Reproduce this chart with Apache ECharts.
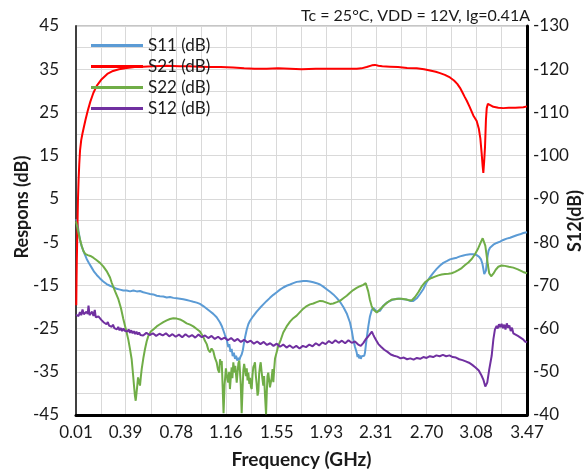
<!DOCTYPE html>
<html>
<head>
<meta charset="utf-8">
<script src="https://cdn.jsdelivr.net/npm/echarts@6/dist/echarts.min.js"></script>
<style>
  html, body { margin: 0; padding: 0; background: #fff; }
  #chart { width: 587px; height: 474px; }
</style>
</head>
<body>
<div id="chart"></div>
<script>
// Axis tick labels
const freqTicks = [0.01, 0.39, 0.78, 1.16, 1.55, 1.93, 2.31, 2.70, 3.08, 3.47];
const responseTicks = [-45, -35, -25, -15, -5, 5, 15, 25, 35, 45];

// Series: [frequency GHz, dB]
const s11 = [[0.010, 0.3], [0.020, -0.4], [0.028, -2.1], [0.041, -4.6], [0.054, -6.0], [0.066, -7.0], [0.080, -8.0], [0.092, -8.9], [0.110, -9.9], [0.130, -10.9], [0.150, -11.9], [0.169, -12.6], [0.194, -13.4], [0.219, -14.1], [0.245, -14.7], [0.271, -15.1], [0.296, -15.4], [0.322, -15.8], [0.348, -16.0], [0.373, -16.2], [0.399, -16.2], [0.425, -16.4], [0.450, -16.2], [0.476, -16.4], [0.501, -16.3], [0.526, -16.6], [0.552, -16.8], [0.578, -17.0], [0.603, -17.1], [0.629, -17.4], [0.654, -17.5], [0.680, -17.6], [0.706, -17.8], [0.731, -17.7], [0.757, -17.9], [0.783, -18.0], [0.808, -18.1], [0.833, -18.2], [0.859, -18.4], [0.885, -18.6], [0.910, -18.8], [0.936, -19.0], [0.961, -19.3], [0.987, -19.8], [1.013, -20.4], [1.038, -21.0], [1.063, -21.6], [1.089, -22.4], [1.115, -23.6], [1.128, -24.4], [1.140, -25.4], [1.153, -26.5], [1.166, -27.5], [1.178, -29.3], [1.186, -28.6], [1.195, -30.4], [1.204, -29.7], [1.212, -31.4], [1.221, -30.6], [1.230, -32.0], [1.238, -31.3], [1.247, -32.4], [1.255, -31.8], [1.263, -32.3], [1.272, -31.5], [1.281, -31.0], [1.290, -30.0], [1.298, -28.5], [1.307, -27.0], [1.320, -25.2], [1.332, -24.0], [1.345, -23.2], [1.370, -22.1], [1.396, -21.1], [1.422, -20.2], [1.447, -19.4], [1.473, -18.6], [1.498, -17.9], [1.524, -17.2], [1.550, -16.6], [1.575, -16.0], [1.600, -15.5], [1.626, -15.1], [1.652, -14.8], [1.677, -14.5], [1.703, -14.2], [1.728, -14.1], [1.754, -14.0], [1.780, -14.0], [1.805, -14.1], [1.831, -14.3], [1.856, -14.5], [1.882, -14.8], [1.907, -15.3], [1.933, -15.9], [1.959, -16.5], [1.984, -17.1], [2.010, -17.9], [2.035, -18.8], [2.061, -20.0], [2.087, -21.5], [2.112, -23.6], [2.125, -25.4], [2.137, -27.5], [2.150, -29.2], [2.163, -30.5], [2.170, -31.6], [2.176, -30.9], [2.182, -31.9], [2.189, -31.2], [2.195, -32.0], [2.202, -31.4], [2.208, -31.8], [2.214, -31.0], [2.221, -31.3], [2.227, -30.6], [2.234, -28.8], [2.240, -27.3], [2.252, -24.6], [2.265, -22.2], [2.278, -20.8], [2.291, -20.2], [2.304, -20.6], [2.317, -21.1], [2.329, -21.3], [2.342, -20.9], [2.355, -20.3], [2.368, -19.7], [2.394, -19.0], [2.419, -18.6], [2.444, -18.3], [2.470, -18.1], [2.496, -18.1], [2.521, -18.2], [2.547, -18.3], [2.572, -18.6], [2.598, -18.6], [2.624, -18.0], [2.649, -17.0], [2.674, -15.9], [2.700, -14.3], [2.726, -13.1], [2.751, -12.1], [2.777, -11.2], [2.803, -10.4], [2.828, -9.8], [2.854, -9.4], [2.879, -9.0], [2.905, -8.8], [2.931, -8.6], [2.956, -8.3], [2.982, -8.1], [3.008, -7.9], [3.033, -7.8], [3.058, -7.8], [3.084, -8.0], [3.103, -8.4], [3.117, -9.0], [3.128, -10.0], [3.135, -11.2], [3.142, -12.4], [3.148, -12.5], [3.155, -11.6], [3.161, -10.0], [3.168, -8.2], [3.175, -7.0], [3.186, -6.3], [3.199, -5.9], [3.212, -5.6], [3.237, -5.2], [3.263, -4.9], [3.288, -4.5], [3.314, -4.2], [3.340, -4.0], [3.365, -3.7], [3.391, -3.4], [3.416, -3.2], [3.442, -2.9], [3.470, -2.7]];

const s21 = [[0.012, -19.6], [0.014, -14.0], [0.016, -9.5], [0.018, -6.5], [0.021, -1.5], [0.025, 4.8], [0.030, 9.5], [0.035, 13.0], [0.041, 16.2], [0.050, 18.6], [0.060, 20.2], [0.068, 21.3], [0.083, 23.3], [0.102, 25.6], [0.120, 27.5], [0.143, 29.5], [0.170, 31.2], [0.207, 32.7], [0.250, 33.9], [0.294, 34.6], [0.340, 35.0], [0.399, 35.3], [0.460, 35.5], [0.524, 35.6], [0.600, 35.7], [0.706, 35.8], [0.800, 35.7], [0.880, 35.7], [0.961, 35.6], [1.040, 35.5], [1.120, 35.5], [1.215, 35.4], [1.300, 35.2], [1.380, 35.1], [1.473, 35.1], [1.560, 35.2], [1.652, 35.1], [1.740, 35.0], [1.850, 35.1], [1.950, 35.1], [2.050, 35.1], [2.164, 35.1], [2.200, 35.2], [2.240, 35.5], [2.280, 35.9], [2.304, 36.0], [2.330, 35.8], [2.360, 35.7], [2.419, 35.6], [2.480, 35.5], [2.550, 35.3], [2.624, 35.2], [2.680, 35.0], [2.726, 34.7], [2.770, 34.4], [2.803, 34.1], [2.840, 33.7], [2.879, 33.1], [2.910, 32.4], [2.935, 31.6], [2.956, 30.7], [2.975, 29.6], [2.992, 28.6], [3.008, 27.7], [3.030, 26.3], [3.058, 24.3], [3.084, 23.0], [3.100, 21.3], [3.112, 19.0], [3.122, 15.6], [3.130, 12.5], [3.135, 11.0], [3.141, 13.5], [3.148, 17.1], [3.155, 23.3], [3.161, 26.0], [3.170, 27.0], [3.181, 27.2], [3.195, 26.6], [3.212, 26.3], [3.250, 26.1], [3.288, 26.0], [3.330, 26.1], [3.380, 26.1], [3.442, 26.2], [3.470, 26.4]];

const s22 = [[0.010, -0.2], [0.015, -0.6], [0.022, -1.8], [0.028, -2.8], [0.041, -4.4], [0.054, -5.9], [0.066, -7.0], [0.080, -7.7], [0.100, -8.0], [0.120, -8.2], [0.143, -8.6], [0.169, -9.2], [0.194, -9.8], [0.219, -10.6], [0.245, -11.7], [0.271, -13.2], [0.284, -14.4], [0.310, -16.4], [0.335, -18.2], [0.355, -20.3], [0.373, -22.8], [0.392, -25.1], [0.411, -27.5], [0.424, -29.7], [0.437, -32.1], [0.447, -35.4], [0.455, -38.2], [0.462, -40.5], [0.468, -41.7], [0.474, -40.0], [0.480, -38.2], [0.486, -36.3], [0.491, -35.9], [0.496, -37.6], [0.501, -38.2], [0.508, -36.0], [0.514, -34.4], [0.527, -31.8], [0.539, -29.8], [0.552, -28.0], [0.565, -26.7], [0.584, -25.7], [0.603, -25.2], [0.629, -24.5], [0.654, -24.0], [0.680, -23.5], [0.706, -23.1], [0.731, -22.8], [0.757, -22.6], [0.783, -22.7], [0.808, -22.9], [0.833, -23.3], [0.859, -23.8], [0.885, -24.1], [0.910, -24.5], [0.936, -25.1], [0.961, -25.7], [0.974, -26.3], [0.987, -27.0], [1.000, -27.9], [1.013, -28.6], [1.025, -29.9], [1.038, -30.5], [1.050, -29.6], [1.063, -30.2], [1.076, -31.8], [1.089, -32.8], [1.099, -34.5], [1.109, -35.2], [1.115, -32.1], [1.122, -33.4], [1.128, -32.5], [1.135, -38.5], [1.142, -44.6], [1.150, -38.0], [1.160, -34.2], [1.166, -34.4], [1.172, -36.8], [1.178, -37.5], [1.185, -35.0], [1.191, -39.0], [1.198, -36.2], [1.204, -34.0], [1.210, -36.5], [1.217, -32.8], [1.225, -35.2], [1.232, -33.6], [1.243, -37.5], [1.250, -35.0], [1.256, -33.0], [1.263, -32.4], [1.268, -32.1], [1.274, -38.0], [1.281, -44.6], [1.288, -38.8], [1.294, -34.6], [1.300, -33.2], [1.307, -32.8], [1.314, -36.0], [1.320, -34.2], [1.326, -37.0], [1.332, -35.2], [1.340, -37.8], [1.345, -36.4], [1.352, -38.5], [1.358, -39.0], [1.364, -35.8], [1.370, -34.0], [1.377, -33.4], [1.383, -32.8], [1.390, -36.0], [1.396, -37.8], [1.403, -40.5], [1.409, -39.6], [1.415, -35.5], [1.422, -33.6], [1.427, -32.8], [1.434, -35.0], [1.440, -36.6], [1.447, -38.2], [1.453, -36.0], [1.460, -40.5], [1.468, -44.8], [1.474, -39.5], [1.479, -36.0], [1.485, -35.2], [1.492, -37.0], [1.498, -38.6], [1.504, -39.0], [1.511, -36.4], [1.518, -34.4], [1.524, -37.4], [1.530, -34.5], [1.537, -31.9], [1.550, -30.4], [1.562, -29.0], [1.581, -27.6], [1.600, -25.9], [1.626, -24.5], [1.652, -23.4], [1.677, -22.6], [1.703, -22.0], [1.728, -21.2], [1.754, -20.4], [1.780, -19.8], [1.805, -19.4], [1.831, -19.2], [1.856, -18.9], [1.882, -18.6], [1.907, -18.7], [1.933, -19.0], [1.959, -19.3], [1.984, -19.2], [2.010, -18.9], [2.035, -18.6], [2.061, -18.0], [2.087, -17.4], [2.112, -16.7], [2.137, -16.1], [2.163, -15.6], [2.189, -15.2], [2.214, -14.9], [2.233, -14.5], [2.242, -14.7], [2.252, -16.4], [2.265, -18.4], [2.278, -19.8], [2.291, -20.6], [2.304, -21.0], [2.317, -21.3], [2.329, -21.1], [2.355, -20.2], [2.381, -19.4], [2.406, -18.8], [2.432, -18.3], [2.457, -18.2], [2.483, -18.1], [2.508, -18.1], [2.534, -18.2], [2.560, -18.4], [2.585, -18.5], [2.611, -17.7], [2.636, -16.6], [2.661, -15.3], [2.687, -14.3], [2.713, -13.7], [2.738, -13.3], [2.764, -13.0], [2.790, -12.7], [2.815, -12.5], [2.841, -12.4], [2.867, -12.3], [2.892, -12.2], [2.918, -11.9], [2.943, -11.5], [2.969, -11.0], [2.995, -10.3], [3.020, -9.7], [3.046, -8.9], [3.071, -7.8], [3.096, -6.4], [3.116, -5.0], [3.130, -4.1], [3.140, -4.4], [3.150, -5.8], [3.160, -8.0], [3.170, -10.3], [3.180, -12.2], [3.195, -12.9], [3.212, -12.3], [3.230, -11.4], [3.250, -10.7], [3.275, -10.4], [3.300, -10.5], [3.330, -10.7], [3.365, -10.9], [3.400, -11.3], [3.440, -11.9], [3.470, -12.2]];

const s12 = [[0.010, -63.2], [0.020, -63.6], [0.030, -62.9], [0.040, -63.8], [0.050, -63.1], [0.060, -64.4], [0.070, -63.3], [0.080, -63.0], [0.090, -63.9], [0.100, -63.4], [0.106, -65.3], [0.114, -63.1], [0.124, -62.7], [0.134, -63.9], [0.144, -62.9], [0.154, -64.3], [0.162, -62.6], [0.172, -63.0], [0.182, -62.8], [0.194, -62.4], [0.204, -62.0], [0.214, -62.3], [0.224, -61.4], [0.234, -61.8], [0.244, -61.0], [0.254, -61.5], [0.264, -60.7], [0.274, -61.1], [0.284, -60.4], [0.294, -60.9], [0.304, -60.1], [0.314, -60.5], [0.324, -59.8], [0.334, -60.4], [0.344, -59.6], [0.354, -60.1], [0.364, -59.4], [0.374, -60.0], [0.384, -59.5], [0.394, -59.9], [0.404, -59.3], [0.414, -59.8], [0.424, -59.0], [0.434, -59.6], [0.444, -58.9], [0.454, -59.4], [0.464, -58.7], [0.474, -59.3], [0.484, -58.6], [0.494, -59.1], [0.504, -58.5], [0.525, -58.4], [0.550, -59.0], [0.575, -58.5], [0.600, -58.9], [0.625, -58.3], [0.650, -58.8], [0.675, -58.4], [0.700, -58.9], [0.725, -58.2], [0.750, -58.7], [0.775, -58.1], [0.800, -58.6], [0.825, -58.0], [0.850, -58.7], [0.875, -58.1], [0.900, -58.5], [0.925, -57.9], [0.950, -58.6], [0.975, -58.0], [1.000, -58.4], [1.025, -57.8], [1.050, -58.3], [1.075, -57.6], [1.100, -58.1], [1.125, -57.5], [1.150, -57.9], [1.175, -57.3], [1.200, -57.8], [1.225, -57.1], [1.250, -57.6], [1.275, -56.9], [1.300, -57.4], [1.325, -56.8], [1.350, -57.2], [1.375, -56.5], [1.400, -57.0], [1.425, -56.4], [1.450, -56.9], [1.475, -56.2], [1.500, -56.6], [1.525, -56.0], [1.550, -56.5], [1.575, -55.8], [1.600, -56.3], [1.625, -55.6], [1.650, -56.1], [1.675, -55.5], [1.700, -56.0], [1.725, -55.4], [1.750, -56.0], [1.775, -55.7], [1.800, -56.3], [1.825, -55.9], [1.850, -56.6], [1.875, -56.1], [1.900, -56.8], [1.925, -56.4], [1.950, -57.1], [1.975, -56.6], [2.000, -57.3], [2.025, -56.7], [2.050, -57.2], [2.075, -56.6], [2.100, -57.3], [2.125, -56.7], [2.150, -57.0], [2.175, -56.3], [2.195, -56.0], [2.215, -56.7], [2.235, -57.6], [2.250, -58.1], [2.265, -58.3], [2.280, -59.3], [2.290, -58.6], [2.300, -58.0], [2.315, -57.2], [2.330, -56.4], [2.350, -55.8], [2.375, -55.1], [2.400, -54.6], [2.425, -54.0], [2.450, -53.7], [2.475, -53.5], [2.500, -53.1], [2.525, -53.3], [2.550, -52.9], [2.575, -53.1], [2.600, -52.8], [2.625, -53.2], [2.650, -53.0], [2.675, -53.4], [2.700, -53.2], [2.725, -53.6], [2.750, -53.4], [2.775, -53.8], [2.800, -53.6], [2.825, -53.9], [2.850, -53.6], [2.875, -53.8], [2.900, -53.4], [2.925, -53.3], [2.950, -52.9], [2.975, -52.7], [3.000, -52.4], [3.025, -52.1], [3.050, -51.6], [3.075, -51.0], [3.100, -50.3], [3.120, -49.2], [3.135, -48.2], [3.150, -46.6], [3.157, -46.4], [3.165, -47.5], [3.180, -50.5], [3.199, -53.7], [3.212, -57.5], [3.224, -59.8], [3.237, -60.6], [3.245, -60.0], [3.255, -61.0], [3.265, -60.3], [3.275, -61.1], [3.285, -60.1], [3.295, -60.9], [3.305, -59.8], [3.315, -61.2], [3.325, -60.2], [3.335, -60.7], [3.345, -59.4], [3.355, -60.2], [3.365, -58.9], [3.380, -59.1], [3.400, -58.3], [3.420, -57.9], [3.440, -57.5], [3.455, -57.0], [3.470, -56.8]];

const seriesNames = ['S11 (dB)', 'S21 (dB)', 'S22 (dB)', 'S12 (dB)'];
const seriesColors = ['#5B9BD5', '#FF0000', '#70AD47', '#7030A0'];

// vertical grid lines at every label and halfway between labels
const freqGrid = [];
freqTicks.forEach((t, i) => {
  freqGrid.push(t);
  if (i < freqTicks.length - 1) freqGrid.push((t + freqTicks[i + 1]) / 2);
});

const FONT = 'Lato, "Noto Sans", sans-serif';
const TEXT = '#1a1a1a';
const GRIDLINE = '#d9d9d9';

const chart = echarts.init(document.getElementById('chart'), null, { renderer: 'canvas' });

const mkLine = (name, data, color, yAxisIndex) => ({
  name, type: 'line', data, yAxisIndex,
  showSymbol: false, symbol: 'none',
  lineStyle: { color, width: 2 },
  itemStyle: { color },
  z: 3
});

chart.setOption({
  animation: false,
  backgroundColor: '#ffffff',
  textStyle: { fontFamily: FONT },
  title: {
    text: 'Tc = 25°C, VDD = 12V, Ig=0.41A',
    right: 52, top: 3,
    textStyle: { fontFamily: FONT, fontSize: 16, fontWeight: 'normal', color: TEXT }
  },
  legend: {
    orient: 'vertical', left: 91, top: 37, padding: 0,
    icon: 'rect', itemWidth: 52, itemHeight: 3, itemGap: 4,
    textStyle: { fontFamily: FONT, fontSize: 17, color: TEXT, lineHeight: 16 },
    data: seriesNames
  },
  grid: { left: 76, right: 60, top: 26, bottom: 58, show: true, borderColor: '#8c8c8c', borderWidth: 1, backgroundColor: 'transparent' },
  xAxis: {
    type: 'value', min: 0.01, max: 3.47,
    axisLine: { show: true, onZero: false, lineStyle: { color: '#000', width: 3 } },
    axisTick: { show: false, customValues: freqGrid },
    axisLabel: { customValues: freqTicks, formatter: v => v.toFixed(2), margin: 9, fontFamily: FONT, fontSize: 17, color: TEXT },
    splitLine: { show: true, lineStyle: { color: GRIDLINE, width: 1 } },
    name: 'Frequency (GHz)', nameLocation: 'middle', nameGap: 35,
    nameTextStyle: { fontFamily: FONT, fontSize: 19, fontWeight: 'bold', color: TEXT }
  },
  yAxis: [
    {
      type: 'value', min: -45, max: 45, interval: 5, position: 'left',
      axisLine: { show: true, onZero: false, lineStyle: { color: '#404040', width: 2 } },
      axisTick: { show: false },
      axisLabel: { customValues: responseTicks, margin: 17, fontFamily: FONT, fontSize: 17, color: TEXT },
      splitLine: { show: true, lineStyle: { color: GRIDLINE, width: 1 } }
    },
    {
      type: 'value', min: -130, max: -40, interval: 10, inverse: true, position: 'right',
      axisLine: { show: true, onZero: false, lineStyle: { color: '#000', width: 3 } },
      axisTick: { show: false },
      axisLabel: { margin: 6, fontFamily: FONT, fontSize: 17, color: TEXT },
      splitLine: { show: false }
    }
  ],
  graphic: [
    {
      type: 'text', x: 22, y: 207, rotation: Math.PI / 2,
      style: { text: 'Respons (dB)', fontFamily: FONT, fontSize: 18, fontWeight: 'bold', fill: TEXT, align: 'center', verticalAlign: 'middle' }
    },
    {
      type: 'text', x: 575, y: 221, rotation: Math.PI / 2,
      style: { text: 'S12(dB)', fontFamily: FONT, fontSize: 18, fontWeight: 'bold', fill: TEXT, align: 'center', verticalAlign: 'middle' }
    }
  ],
  series: [
    mkLine(seriesNames[0], s11, seriesColors[0], 0),
    mkLine(seriesNames[1], s21, seriesColors[1], 0),
    mkLine(seriesNames[2], s22, seriesColors[2], 0),
    mkLine(seriesNames[3], s12, seriesColors[3], 1)
  ]
});
</script>
</body>
</html>
